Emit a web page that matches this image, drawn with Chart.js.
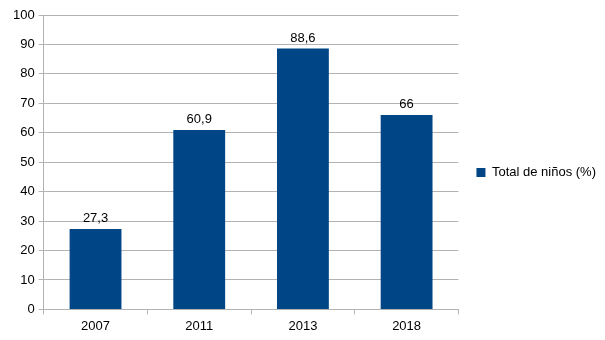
<!DOCTYPE html>
<html>
<head>
<meta charset="utf-8">
<script src="https://cdn.jsdelivr.net/npm/chart.js@4/dist/chart.umd.min.js"></script>
<style>
  html, body { margin: 0; padding: 0; background: #fff; }
  #wrap { width: 605px; height: 340px; }
</style>
</head>
<body>
<div id="wrap"><canvas id="ninosChart" width="605" height="340"></canvas></div>
<script>
const years = ['2007', '2011', '2013', '2018'];
const totalNinos = [27.3, 60.9, 88.6, 66];
const yTicks = [0, 10, 20, 30, 40, 50, 60, 70, 80, 90, 100];

const gridGray = '#b3b3b3';
const barBlue = '#004586';
const font = { family: '"Liberation Sans", Arial, sans-serif', size: 13 };

// value labels above each bar, with decimal comma
const valueLabels = {
  id: 'valueLabels',
  afterDatasetsDraw(chart) {
    const c = chart.ctx;
    const meta = chart.getDatasetMeta(0);
    c.save();
    c.font = '13px "Liberation Sans", Arial, sans-serif';
    c.fillStyle = '#000';
    c.textAlign = 'center';
    c.textBaseline = 'alphabetic';
    meta.data.forEach((bar, i) => {
      const txt = String(totalNinos[i]).replace('.', ',');
      c.fillText(txt, bar.x, bar.y - 7);
    });
    c.restore();
  }
};

// let the legend text run into its right padding so the plot gets more room,
// and lift the legend a little
const tightLegend = {
  id: 'tightLegend',
  afterInit(chart) {
    const lg = chart.legend;
    const fit = lg.fit;
    lg.fit = function () {
      fit.call(this);
      this.width -= 1;
    };
  },
  afterLayout(chart) {
    chart.legend.top -= 4;
    chart.legend.bottom -= 4;
  }
};

const ctx = document.getElementById('ninosChart').getContext('2d');

new Chart(ctx, {
  type: 'bar',
  data: {
    labels: years,
    datasets: [{
      label: 'Total de niños (%)',
      data: totalNinos,
      backgroundColor: barBlue,
      borderWidth: 0,
      barPercentage: 1,
      categoryPercentage: 0.5
    }]
  },
  options: {
    responsive: false,
    animation: false,
    layout: {
      padding: { top: 15, left: 9, right: 0, bottom: 2 }
    },
    scales: {
      x: {
        offset: true,
        grid: {
          offset: true,
          color: (c) => (c.index === 0 || c.index === years.length) ? gridGray : 'rgba(0,0,0,0)',
          tickColor: gridGray,
          tickLength: 5
        },
        border: { color: gridGray },
        ticks: { color: '#000', font: font, padding: 4 }
      },
      y: {
        min: 0,
        max: 100,
        afterBuildTicks: (axis) => { axis.ticks = yTicks.map(v => ({ value: v })); },
        grid: { color: gridGray, tickColor: gridGray, tickLength: 5 },
        border: { color: gridGray },
        ticks: { color: '#000', font: font, padding: 4 }
      }
    },
    plugins: {
      legend: {
        position: 'right',
        labels: {
          boxWidth: 9,
          boxHeight: 9,
          padding: 18,
          color: '#000',
          font: font
        }
      },
      tooltip: { enabled: false }
    }
  },
  plugins: [valueLabels, tightLegend]
});
</script>
</body>
</html>
